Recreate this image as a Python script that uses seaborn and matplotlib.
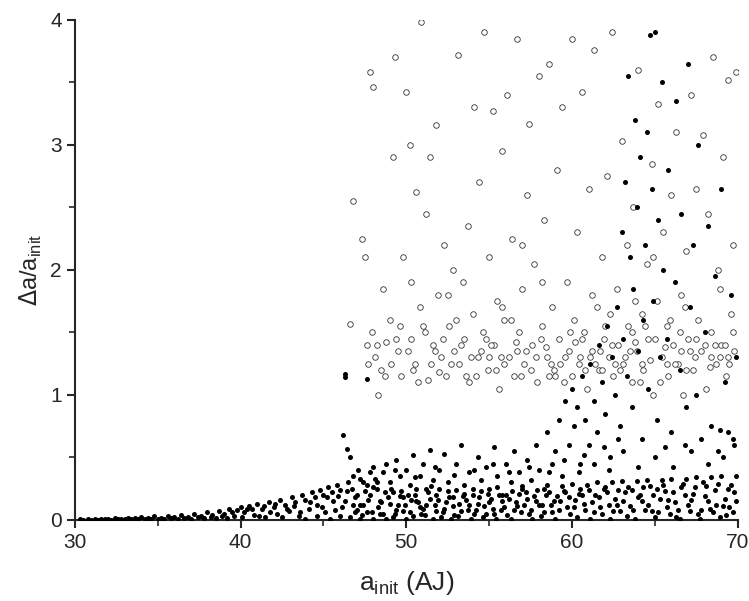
import matplotlib
matplotlib.use("Agg")
import matplotlib.pyplot as plt
import seaborn as sns
import pandas as pd
from matplotlib.ticker import MultipleLocator

# filled points: (a_init, da/a)
filled_points = [
(30.3,0.003),(30.8,0.006),(31.2,0.004),(31.6,0.009),(32.0,0.007),(32.4,0.012),(32.8,0.008),(33.2,0.016),(33.6,0.011),(34.0,0.022),
(34.4,0.014),(34.8,0.027),(35.2,0.018),(35.6,0.033),(36.0,0.022),(36.4,0.040),(36.8,0.026),(37.2,0.048),(37.6,0.030),(38.0,0.062),
(38.3,0.040),(38.7,0.072),(39.0,0.050),(39.3,0.085),(39.6,0.030),(40.0,0.105),(40.2,0.060),(40.5,0.112),(40.8,0.040),(41.0,0.125),
(41.3,0.085),(41.5,0.020),(41.7,0.140),(42.0,0.100),(42.2,0.050),(42.4,0.160),(42.7,0.120),(42.9,0.070),(43.1,0.180),(43.3,0.140),
(43.5,0.030),(43.7,0.200),(43.9,0.160),(44.1,0.090),(44.3,0.220),(44.5,0.180),(44.6,0.120),(44.8,0.240),(45.0,0.200),(45.1,0.060),
(45.3,0.260),(45.5,0.220),(45.6,0.150),(45.8,0.280),(46.0,0.240),(46.1,0.100),(46.2,0.680),(46.4,0.570),(46.6,0.500),(46.3,1.170),
(46.3,1.140),(47.6,1.130),(46.5,0.300),(46.8,0.350),(47.0,0.200),(47.2,0.330),(47.4,0.120),(47.6,0.280),(47.8,0.380),(48.0,0.420),
(48.2,0.250),(48.4,0.150),(48.6,0.380),(48.8,0.450),(49.0,0.300),(49.2,0.220),(49.4,0.480),(49.6,0.350),(49.8,0.180),(50.0,0.400),
(50.2,0.280),(50.4,0.520),(50.6,0.150),(50.8,0.350),(51.0,0.450),(51.2,0.250),(51.4,0.560),(51.6,0.320),(51.8,0.200),(52.0,0.400),
(52.3,0.530),(52.5,0.300),(52.8,0.180),(53.0,0.450),(53.3,0.600),(53.5,0.280),(53.8,0.380),(54.0,0.200),(54.3,0.500),(54.5,0.320),
(54.8,0.420),(55.0,0.250),(55.3,0.580),(55.5,0.350),(55.8,0.200),(56.0,0.450),(56.3,0.300),(56.5,0.550),(56.8,0.380),(57.0,0.250),
(57.3,0.480),(57.5,0.320),(57.8,0.600),(58.0,0.400),(58.3,0.250),(58.5,0.700),(58.8,0.450),(59.0,0.550),(59.2,0.800),(59.4,0.350),
(59.6,0.950),(59.8,0.600),(60.0,1.050),(60.1,0.750),(60.3,0.900),(60.5,0.450),(60.6,1.150),(60.8,0.800),(61.0,0.600),(61.1,1.250),
(61.3,0.950),(61.5,0.700),(61.6,1.400),(61.8,1.100),(62.0,0.850),(62.1,1.550),(62.3,0.500),(62.4,1.300),(62.6,1.000),(62.7,1.700),
(62.9,0.750),(63.0,2.300),(63.1,1.450),(63.2,2.700),(63.3,1.150),(63.4,3.550),(63.5,2.100),(63.6,0.900),(63.7,1.850),(63.8,3.200),
(63.9,2.500),(64.0,1.350),(64.1,2.900),(64.2,0.650),(64.3,1.600),(64.4,2.200),(64.5,3.100),(64.6,1.050),(64.7,3.880),(64.8,2.650),
(64.9,1.750),(65.0,3.900),(65.1,0.800),(65.2,2.400),(65.3,1.300),(65.4,3.500),(65.5,2.000),(65.7,1.450),(65.8,2.800),(66.0,0.700),
(66.2,1.900),(66.3,3.350),(66.5,1.200),(66.6,2.450),(66.8,0.600),(67.0,3.650),(67.1,1.700),(67.3,2.200),(67.5,1.000),(67.6,3.000),
(67.8,0.650),(68.0,1.500),(68.2,2.350),(68.4,0.750),(68.6,1.950),(68.8,0.550),(69.0,2.650),(69.2,1.100),(69.4,0.700),(69.6,1.800),
(69.8,0.600),(69.9,1.300),
(46.6,0.020),(47.0,0.080),(47.3,0.040),(47.7,0.160),(48.0,0.010),(48.3,0.100),(48.6,0.050),(48.9,0.180),(49.2,0.020),(49.5,0.120),
(49.8,0.070),(50.1,0.200),(50.4,0.030),(50.7,0.140),(51.0,0.090),(51.3,0.220),(51.6,0.010),(51.9,0.160),(52.2,0.060),(52.5,0.230),
(52.8,0.110),(53.1,0.030),(53.4,0.190),(53.7,0.080),(54.0,0.250),(54.3,0.130),(54.6,0.020),(54.9,0.210),(55.2,0.090),(55.5,0.260),
(55.8,0.150),(56.1,0.040),(56.4,0.230),(56.7,0.110),(57.0,0.270),(57.3,0.170),(57.6,0.010),(57.9,0.240),(58.2,0.120),(58.5,0.280),
(58.8,0.060),(59.1,0.190),(59.4,0.270),(59.7,0.100),(60.0,0.290),(60.3,0.020),(60.6,0.200),(60.9,0.280),(61.2,0.140),(61.5,0.300),
(61.8,0.050),(62.1,0.220),(62.4,0.300),(62.7,0.120),(63.0,0.310),(63.3,0.030),(63.6,0.240),(63.9,0.310),(64.2,0.150),(64.5,0.320),
(64.8,0.070),(65.1,0.250),(65.4,0.320),(65.7,0.100),(66.0,0.330),(66.3,0.020),(66.6,0.260),(66.9,0.330),(67.2,0.160),(67.5,0.340),
(67.8,0.080),(68.1,0.270),(68.4,0.340),(68.7,0.120),(69.0,0.350),(69.3,0.040),(69.6,0.280),(69.9,0.350),
(46.8,0.120),(47.2,0.010),(47.5,0.230),(47.9,0.060),(48.2,0.300),(48.5,0.140),(48.8,0.010),(49.1,0.250),(49.4,0.080),(49.7,0.230),
(50.0,0.010),(50.3,0.160),(50.6,0.250),(50.9,0.050),(51.2,0.120),(51.5,0.270),(51.8,0.070),(52.1,0.020),(52.4,0.140),(52.7,0.010),
(53.0,0.240),(53.3,0.070),(53.6,0.160),(53.9,0.010),(54.2,0.080),(54.5,0.230),(54.8,0.050),(55.1,0.170),(55.4,0.010),(55.7,0.080),
(56.0,0.200),(56.3,0.010),(56.6,0.140),(56.9,0.060),(57.2,0.220),(57.5,0.080),(57.8,0.150),(58.1,0.030),(58.4,0.200),(58.7,0.120),
(59.0,0.010),(59.3,0.150),(59.6,0.220),(59.9,0.050),(60.2,0.160),(60.5,0.250),(60.8,0.080),(61.1,0.010),(61.4,0.200),(61.7,0.100),
(62.0,0.260),(62.3,0.010),(62.6,0.170),(62.9,0.070),(63.2,0.220),(63.5,0.110),(63.8,0.010),(64.1,0.200),(64.4,0.080),(64.7,0.270),
(65.0,0.020),(65.3,0.170),(65.6,0.230),(65.9,0.050),(66.2,0.140),(66.5,0.010),(66.8,0.200),(67.1,0.070),(67.4,0.260),(67.7,0.010),
(68.0,0.190),(68.3,0.090),(68.6,0.240),(68.9,0.020),(69.2,0.170),(69.5,0.100),(69.8,0.220),
(47.1,0.400),(48.1,0.330),(49.3,0.400),(50.5,0.340),(51.7,0.420),(52.9,0.360),(54.1,0.400),(55.2,0.450),(56.2,0.380),(57.4,0.420),
(58.6,0.380),(59.5,0.480),(60.4,0.380),(61.3,0.450),(62.2,0.400),(63.1,0.550),(64.0,0.420),(65.0,0.500),(66.1,0.420),(67.2,0.550),
(68.2,0.450),(69.1,0.500),(69.7,0.650),(68.9,0.720),(66.9,0.900),(65.6,0.580),(62.8,0.650),(61.9,0.580),(60.7,0.520),
(30.5,0.001),(31.0,0.002),(31.4,0.001),(31.8,0.003),(32.2,0.002),(32.6,0.004),(33.0,0.003),(33.4,0.006),(33.8,0.004),(34.2,0.008),
(34.6,0.005),(35.0,0.010),(35.4,0.006),(35.8,0.012),(36.2,0.008),(36.6,0.015),(37.0,0.010),(37.4,0.020),(37.8,0.012),(38.2,0.025),
(38.5,0.015),(38.9,0.030),(39.2,0.012),(39.5,0.060),(39.8,0.080),(40.1,0.020),(40.4,0.085),(40.7,0.090),(41.1,0.030),(41.4,0.110),
(41.8,0.060),(42.1,0.130),(42.5,0.020),(42.8,0.085),(43.2,0.110),(43.6,0.060),(43.9,0.010),(44.2,0.140),(44.6,0.030),(44.9,0.100),
(45.2,0.180),(45.4,0.010),(45.7,0.080),(45.9,0.190),(46.0,0.030),(46.3,0.150),(46.7,0.250),(46.9,0.060),(47.4,0.300),(47.8,0.200),
(46.4,0.230),(46.9,0.180),(47.2,0.120),(47.6,0.060),(48.0,0.260),(48.4,0.050),(48.7,0.220),(49.0,0.130),(49.3,0.050),(49.6,0.190),
(49.9,0.120),(50.2,0.060),(50.5,0.200),(50.8,0.100),(51.1,0.040),(51.4,0.170),(51.7,0.120),(52.0,0.250),(52.3,0.090),(52.6,0.180),
(52.9,0.040),(53.2,0.130),(53.5,0.210),(53.8,0.120),(54.1,0.050),(54.4,0.180),(54.7,0.110),(55.0,0.140),(55.3,0.050),(55.6,0.200),
(55.9,0.100),(56.2,0.170),(56.5,0.080),(56.8,0.210),(57.1,0.120),(57.4,0.050),(57.7,0.190),(58.0,0.120),(58.3,0.060),(58.6,0.220),
(58.9,0.150),(59.2,0.080),(59.5,0.230),(59.8,0.180),(60.1,0.100),(60.4,0.210),(60.7,0.130),(61.0,0.240),(61.3,0.060),(61.6,0.180),
(61.9,0.250),(62.2,0.120),(62.5,0.070),(62.8,0.240),(63.1,0.150),(63.4,0.260),(63.7,0.080),(64.0,0.180),(64.3,0.260),(64.6,0.120),
(64.9,0.200),(65.2,0.060),(65.5,0.280),(65.8,0.160),(66.1,0.220),(66.4,0.080),(66.7,0.290),(67.0,0.120),(67.3,0.210),(67.6,0.050),
(67.9,0.300),(68.2,0.150),(68.5,0.060),(68.8,0.290),(69.1,0.110),(69.4,0.250),(69.7,0.060),(69.9,0.150),
]

# open points: (a_init, da/a)
open_points = [
(46.8,2.550),(46.6,1.570),(47.3,2.250),(47.5,2.100),(47.8,3.580),(48.0,3.460),(47.6,1.400),(47.9,1.500),(48.1,1.300),(48.3,1.000),
(48.5,1.200),(48.6,1.850),(48.8,1.420),(49.0,1.600),(49.2,2.900),(49.3,3.700),(49.5,1.350),(49.7,1.150),(49.8,2.100),(50.0,3.420),
(50.2,3.000),(50.3,1.450),(50.5,1.250),(50.6,2.620),(50.8,1.700),(50.9,3.980),(51.0,1.550),(51.2,2.450),(51.3,1.120),(51.4,2.900),
(51.6,1.400),(51.8,3.160),(51.9,1.800),(52.1,1.300),(52.3,2.200),(52.4,1.150),(52.6,1.550),(52.8,2.000),(52.9,1.350),(53.1,3.720),
(53.2,1.250),(53.4,1.900),(53.5,1.450),(53.7,2.350),(53.8,1.100),(54.0,1.650),(54.1,3.300),(54.3,1.300),(54.4,2.700),(54.6,1.500),
(54.7,3.900),(54.9,1.200),(55.0,2.100),(55.2,3.270),(55.3,1.400),(55.5,1.750),(55.6,1.050),(55.8,2.950),(55.9,1.600),(56.1,3.400),
(56.2,1.300),(56.4,2.250),(56.5,1.150),(56.7,3.850),(56.8,1.500),(57.0,1.850),(57.1,1.250),(57.3,2.600),(57.4,3.170),(57.6,1.400),
(57.7,2.050),(57.9,1.100),(58.0,3.550),(58.2,1.550),(58.3,2.400),(58.5,1.300),(58.6,3.650),(58.8,1.700),(58.9,1.200),(59.1,2.800),
(59.2,1.450),(59.4,3.300),(59.5,1.100),(59.7,1.900),(59.8,1.350),(60.0,3.850),(60.1,1.600),(60.3,2.300),(60.4,1.250),(60.6,3.420),
(60.7,1.500),(60.9,1.050),(61.0,2.650),(61.2,1.350),(61.3,3.760),(61.5,1.700),(61.6,1.200),(61.8,2.100),(61.9,1.450),(62.1,2.750),
(62.2,1.300),(62.4,3.900),(62.5,1.150),(62.7,1.850),(62.8,1.400),(63.0,3.030),(63.1,1.250),(63.3,2.200),(63.4,1.550),(63.6,1.100),
(63.7,2.500),(63.9,1.350),(64.0,3.600),(64.2,1.650),(64.3,1.200),(64.5,2.050),(64.6,1.450),(64.8,2.850),(64.9,1.000),(65.1,1.750),
(65.2,3.330),(65.4,1.300),(65.5,2.300),(65.7,1.550),(65.8,1.150),(66.0,2.600),(66.1,1.400),(66.3,3.100),(66.4,1.250),(66.6,1.800),
(66.7,1.000),(66.9,2.150),(67.0,1.450),(67.2,3.400),(67.3,1.200),(67.5,2.650),(67.6,1.600),(67.8,1.350),(67.9,3.080),(68.1,1.050),
(68.2,2.450),(68.4,1.500),(68.5,3.700),(68.7,1.250),(68.8,2.000),(69.0,1.400),(69.1,2.900),(69.3,1.150),(69.4,3.520),(69.6,1.650),
(69.7,2.200),(69.9,3.580),(69.8,1.350),
(48.2,1.400),(49.1,1.250),(50.1,1.350),(51.1,1.500),(52.0,1.180),(53.0,1.600),(53.9,1.300),(54.8,1.450),(55.7,1.300),(56.6,1.420),
(57.5,1.200),(58.4,1.380),(59.3,1.250),(60.2,1.420),(61.1,1.300),(62.0,1.550),(62.9,1.200),(63.8,1.420),(64.7,1.280),(65.6,1.380),
(66.5,1.500),(67.4,1.300),(68.3,1.220),(69.2,1.400),(69.5,1.250),
(49.6,1.550),(50.7,1.100),(51.5,1.250),(52.2,1.450),(53.6,1.150),(54.5,1.350),(55.4,1.200),(56.3,1.600),(57.2,1.350),(58.1,1.450),
(59.0,1.150),(59.9,1.500),(60.8,1.200),(61.7,1.350),(62.6,1.250),(63.5,1.350),(64.4,1.550),(65.3,1.100),(66.2,1.250),(67.1,1.350),
(68.0,1.400),(68.9,1.300),(69.7,1.500),(65.9,1.600),(64.1,1.100),(62.3,1.650),(60.5,1.300),(58.7,1.250),(56.9,1.150),(55.1,1.400),
(47.7,1.250),(48.7,1.150),(49.4,1.450),(50.4,1.200),(51.7,1.350),(52.7,1.250),(53.3,1.400),(54.2,1.150),(55.0,1.300),(55.9,1.250),
(56.7,1.350),(57.8,1.300),(58.6,1.150),(59.6,1.300),(60.6,1.450),(61.4,1.250),(62.4,1.400),(63.2,1.300),(64.2,1.250),(65.0,1.450),
(65.7,1.250),(66.6,1.350),(67.5,1.450),(68.6,1.400),(69.4,1.300),(61.8,1.200),(63.6,1.500),(66.9,1.200),(68.4,1.300),(60.0,1.150),
(52.5,1.800),(55.8,1.700),(58.2,1.900),(61.2,1.800),(63.8,1.750),(66.8,1.700),(68.9,1.850),(50.3,1.900),(57.0,2.200),(64.9,2.100),
]

df_f = pd.DataFrame(filled_points, columns=["a", "d"])
df_o = pd.DataFrame(open_points, columns=["a", "d"])

sns.set_style("ticks")
plt.rcParams["font.family"] = ["Liberation Sans", "DejaVu Sans"]
fig, ax = plt.subplots(figsize=(7.49, 6.01), dpi=100)
fig.subplots_adjust(left=0.10, right=0.985, top=0.967, bottom=0.135)

sns.scatterplot(data=df_o, x="a", y="d", ax=ax, marker="o", s=16,
                facecolor="white", edgecolor="#333333", linewidth=0.6, zorder=2)
sns.scatterplot(data=df_f, x="a", y="d", ax=ax, marker="o", s=13,
                color="black", edgecolor="black", linewidth=0, zorder=3)

ax.set_xlim(30, 70)
ax.set_ylim(0, 4)
ax.xaxis.set_major_locator(MultipleLocator(10))
ax.xaxis.set_minor_locator(MultipleLocator(5))
ax.yaxis.set_major_locator(MultipleLocator(1))
ax.yaxis.set_minor_locator(MultipleLocator(0.5))
ax.tick_params(which="major", direction="out", length=6, width=1.5, labelsize=15)
ax.tick_params(which="minor", direction="out", length=4, width=1.2)
for s in ["left", "bottom"]:
    ax.spines[s].set_linewidth(1.5)
sns.despine(ax=ax)
ax.set_xlabel(r"a$_\mathregular{init}$ (AJ)", fontsize=19, labelpad=12)
ax.set_ylabel(r"$\Delta$a/a$_\mathregular{init}$", fontsize=17)
fig.savefig("out.png", dpi=100)
